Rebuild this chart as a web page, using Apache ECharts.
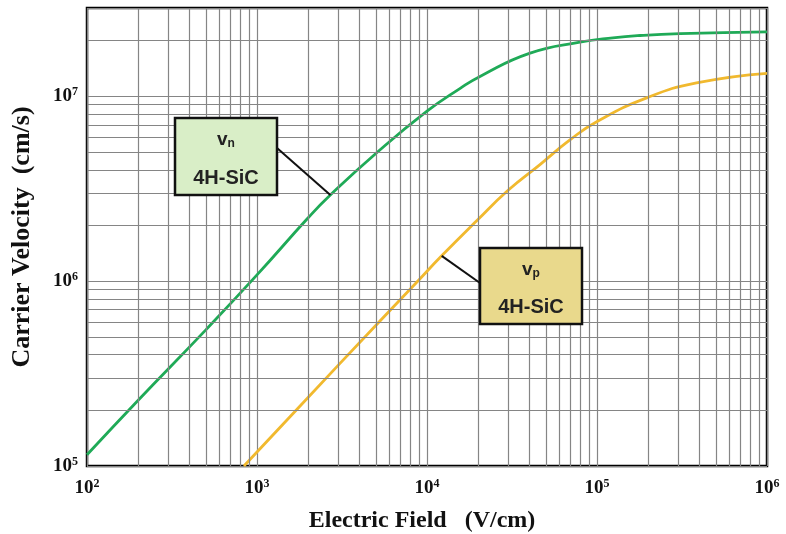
<!DOCTYPE html>
<html><head><meta charset="utf-8">
<script src="https://cdn.jsdelivr.net/npm/echarts@6/dist/echarts.min.js"></script>
<style>html,body{margin:0;padding:0;background:#fff}#c{width:786px;height:534px}</style>
</head><body><div id="c"></div>
<script>
// ---- data ----
const fieldN = [100, 200, 500, 1000, 2000, 2700, 5000, 10000, 15600, 20500, 40400, 79400, 124000, 179000, 308000, 1000000];
const velN   = [1.15e5, 2.27e5, 5.45e5, 1.08e6, 2.2e6, 2.92e6, 4.9e6, 8.3e6, 1.1e7, 1.28e7, 1.71e7, 1.96e7, 2.07e7, 2.13e7, 2.18e7, 2.23e7];
const fieldP = [838, 1000, 3000, 9100, 12200, 19600, 30000, 46200, 69300, 99600, 196000, 385000, 1000000];
const velP   = [1e5, 1.19e5, 3.5e5, 1.03e6, 1.37e6, 2.12e6, 3.1e6, 4.27e6, 5.8e6, 7.28e6, 9.8e6, 1.18e7, 1.33e7];
const xRange = [1e2, 1e6];
const yRange = [1e5, 3e7];
const xTitle = 'Electric Field   (V/cm)';
const yTitle = 'Carrier Velocity  (cm/s)';
const labelN = { sym: 'v', sub: 'n', name: '4H-SiC' };
const labelP = { sym: 'v', sub: 'p', name: '4H-SiC' };
const anchorN = [2700, 2.92e6];
const anchorP = [12200, 1.37e6];
const minorMult = [2, 3, 4, 5, 6, 7, 8, 9];

// gridline values (2..9 within each decade)
function minorValues(lo, hi) {
  const out = [];
  for (let d = Math.round(Math.log10(lo)); d < Math.round(Math.log10(hi)) + 1; d++) {
    minorMult.forEach(m => { const v = m * Math.pow(10, d); if (v > lo && v < hi * 1.0001) out.push(v); });
  }
  return out;
}
const xMinor = minorValues(xRange[0], xRange[1]);
const yMinor = minorValues(yRange[0], yRange[1]);

const GREEN = '#1faa57', YELLOW = '#f1b92e', GRID = '#858585';
const serif = '"Liberation Serif", "Times New Roman", serif';
const sans = '"Liberation Sans", Arial, sans-serif';

function powLabel(value) {
  const l = Math.log10(value), e = Math.round(l);
  if (Math.abs(l - e) > 1e-6) return '';
  return '{b|10}{s|' + e + '}';
}
const tickRich = {
  b: { fontFamily: serif, fontWeight: 'bold', fontSize: 19, color: '#111' },
  s: { fontFamily: serif, fontWeight: 'bold', fontSize: 12, color: '#111', padding: [0, 0, 9, 0] }
};

const chart = echarts.init(document.getElementById('c'), null, { renderer: 'canvas' });
chart.setOption({
  animation: false,
  backgroundColor: '#fff',
  grid: { left: 87, right: 19, top: 8, bottom: 68, outerBoundsMode: 'none', containLabel: false,
          show: true, borderColor: '#000', borderWidth: 2.5, backgroundColor: 'transparent' },
  xAxis: {
    type: 'log', logBase: 10, min: xRange[0], max: xRange[1],
    name: xTitle, nameLocation: 'middle', nameGap: 43,
    nameTextStyle: { fontFamily: serif, fontWeight: 'bold', fontSize: 24, color: '#111', padding: [0, 10, 0, 0] },
    axisLine: { show: false }, axisTick: { show: false },
    axisLabel: { formatter: powLabel, rich: tickRich, margin: 12, showMinLabel: true, showMaxLabel: true },
    splitLine: { show: true, lineStyle: { color: GRID, width: 1.2 } }
  },
  yAxis: {
    type: 'log', logBase: 10, min: yRange[0], max: yRange[1],
    name: yTitle, nameLocation: 'middle', nameGap: 52,
    nameTextStyle: { fontFamily: serif, fontWeight: 'bold', fontSize: 26, color: '#111' },
    axisLine: { show: false }, axisTick: { show: false },
    axisLabel: { formatter: powLabel, rich: tickRich, margin: 9 },
    splitLine: { show: true, lineStyle: { color: GRID, width: 1.2 } }
  },
  series: [
    {
      type: 'line', data: [], z: 1, silent: true,
      markLine: {
        silent: true, symbol: 'none', animation: false,
        label: { show: false },
        lineStyle: { color: GRID, width: 1.2, type: 'solid' },
        emphasis: { disabled: true },
        data: xMinor.map(v => ({ xAxis: v })).concat(yMinor.map(v => ({ yAxis: v })))
      }
    },
    {
      name: 'vn', type: 'line', z: 3, smooth: 0.5, showSymbol: false,
      lineStyle: { color: GREEN, width: 2.8 },
      data: fieldN.map((e, i) => [e, velN[i]])
    },
    {
      name: 'vp', type: 'line', z: 3, smooth: 0.5, showSymbol: false,
      lineStyle: { color: YELLOW, width: 2.8 },
      data: fieldP.map((e, i) => [e, velP[i]])
    }
  ]
});

function box(x, y, w, h, fill, lab, anchor, attach) {
  const a = chart.convertToPixel({ xAxisIndex: 0, yAxisIndex: 0 }, anchor);
  const cx = x + w / 2;
  return [
    { type: 'line', z: 10, shape: { x1: attach[0], y1: attach[1], x2: a[0], y2: a[1] }, style: { stroke: '#111', lineWidth: 2 } },
    { type: 'rect', z: 11, shape: { x: x, y: y, width: w, height: h }, style: { fill: fill, stroke: '#111', lineWidth: 2.5 } },
    { type: 'text', z: 12, x: cx, y: y + 22, style: {
        text: '{v|' + lab.sym + '}{s|' + lab.sub + '}', align: 'center', verticalAlign: 'middle',
        rich: { v: { fontFamily: sans, fontWeight: 'bold', fontSize: 19, fill: '#222' },
                s: { fontFamily: sans, fontWeight: 'bold', fontSize: 12, fill: '#222', padding: [8, 0, 0, 0] } } } },
    { type: 'text', z: 12, x: cx, y: y + h - 17, style: { text: lab.name, align: 'center', verticalAlign: 'middle',
        font: 'bold 20px ' + sans, fill: '#222' } }
  ];
}
chart.setOption({
  graphic: [].concat(
    box(175, 118, 102, 77, '#d9eec7', labelN, anchorN, [277, 148]),
    box(480, 248, 102, 76, '#e9d98c', labelP, anchorP, [480, 283])
  )
});
</script>
</body></html>
